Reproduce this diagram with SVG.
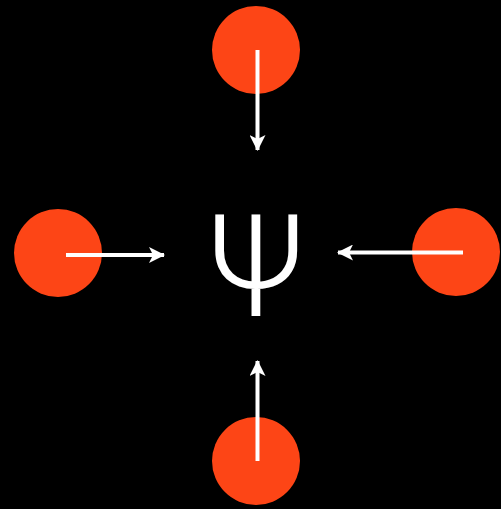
<svg xmlns="http://www.w3.org/2000/svg" width="501" height="509" viewBox="0 0 501 509">
<style>
.node circle{fill:#fd4516}
.edge{stroke:#fff;stroke-width:4;fill:none;marker-end:url(#ah)}
.psi{font-family:Roboto,"Liberation Sans",sans-serif;font-weight:300;font-size:143px;fill:#fff;text-anchor:middle}
</style>
<defs>
<marker id="ah" viewBox="0 0 16 16" refX="15" refY="8" markerWidth="16" markerHeight="16" markerUnits="userSpaceOnUse" orient="auto">
<path d="M0,0 L16,8 L0,16 L4,8 Z" fill="#fff"/>
</marker>
</defs>
<rect width="501" height="509" fill="#000"/>
<g id="top" class="node"><circle cx="256" cy="50" r="44"/></g>
<g id="left" class="node"><circle cx="58" cy="253" r="44"/></g>
<g id="right" class="node"><circle cx="456" cy="252" r="44"/></g>
<g id="bottom" class="node"><circle cx="256" cy="461" r="44"/></g>
<g id="center"><text class="psi" x="256.5" y="316">Ψ</text></g>
<g id="connectors">
<path class="edge" d="M257.5,50 L257.5,150"/>
<path class="edge" d="M66,255 L164,255"/>
<path class="edge" d="M463,252.5 L338,252.5"/>
<path class="edge" d="M257.5,461 L257.5,361"/>
</g>
</svg>
